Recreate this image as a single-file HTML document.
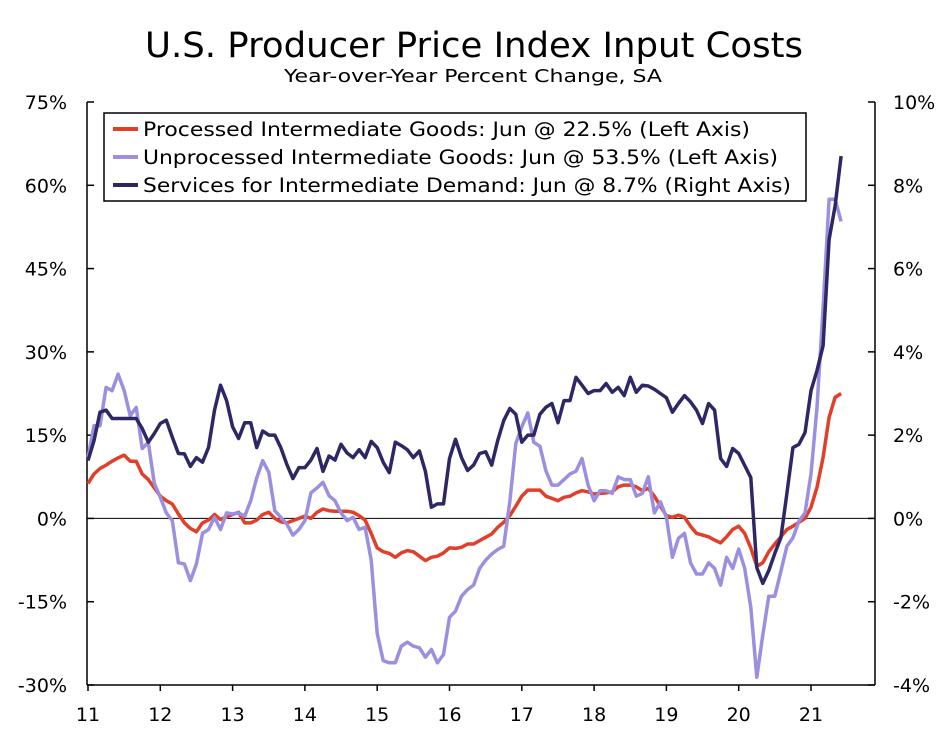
<!DOCTYPE html>
<html><head><meta charset="utf-8"><style>
body{margin:0;background:#fff;}
svg text{font-family:"DejaVu Sans","Liberation Sans",sans-serif;fill:#000;}
</style></head><body>
<svg id="chart" width="947" height="727" viewBox="0 0 947 727" xmlns="http://www.w3.org/2000/svg">
<text x="145" y="57" font-size="35" textLength="658" lengthAdjust="spacingAndGlyphs">U.S. Producer Price Index Input Costs</text>
<text x="284" y="82" font-size="18" textLength="378" lengthAdjust="spacingAndGlyphs">Year-over-Year Percent Change, SA</text>
<g id="axes"></g>
<g id="series"></g>
<g>
<rect x="104" y="113" width="702" height="88" fill="#fff" stroke="#000" stroke-width="1.5"/>
<line x1="113" y1="129" x2="138" y2="129" stroke="#e0402a" stroke-width="4"/>
<text x="143" y="136" font-size="19.5" textLength="607" lengthAdjust="spacingAndGlyphs">Processed Intermediate Goods: Jun @ 22.5% (Left Axis)</text>
<line x1="113" y1="157" x2="138" y2="157" stroke="#9b8fe0" stroke-width="4"/>
<text x="143" y="164" font-size="19.5" textLength="635" lengthAdjust="spacingAndGlyphs">Unprocessed Intermediate Goods: Jun @ 53.5% (Left Axis)</text>
<line x1="113" y1="185" x2="138" y2="185" stroke="#2e2766" stroke-width="4"/>
<text x="143" y="192" font-size="19.5" textLength="648" lengthAdjust="spacingAndGlyphs">Services for Intermediate Demand: Jun @ 8.7% (Right Axis)</text>
</g>
</svg>
<script>
const xYears = ["11","12","13","14","15","16","17","18","19","20","21"];
const leftTicks = [75,60,45,30,15,0,-15,-30];
const rightTicks = [10,8,6,4,2,0,-2,-4];
const processed = [6.3,8,9,9.6,10.3,10.9,11.4,10.3,10.3,8,7,5.5,
4,3.2,2.6,0.8,-0.8,-1.8,-2.4,-0.8,-0.3,0.7,-0.2,0.3,
0.7,1.1,-0.8,-0.8,-0.3,0.7,1.1,0,-0.6,-0.8,-0.4,0,
0.4,0,1.1,1.7,1.4,1.3,1.3,1.3,1.1,0.5,-0.3,-2.7,
-5.3,-6,-6.3,-7,-6.2,-5.8,-6,-6.8,-7.6,-7,-6.8,-6.2,
-5.3,-5.4,-5.2,-4.6,-4.6,-4,-3.4,-2.8,-1.6,-0.7,0.5,2.2,
4,5.1,5.1,5.1,4,3.6,3.2,3.8,4,4.6,5,4.8,
4.4,4.5,4.6,4.8,5.7,6,6,5.7,5,5.4,4,2.2,
0.5,0.2,0.6,0.2,-1.4,-2.7,-3,-3.3,-3.9,-4.4,-3.3,-2,
-1.4,-2.7,-5.3,-8.6,-8,-6,-4.6,-3.3,-2,-1.4,-0.7,0,
2,5.6,11,18.2,21.8,22.5];
const unprocessed = [11,16.7,16.7,23.6,23,26,23,18.5,20,12.6,13.7,6.3,
3.8,1,-0.4,-8,-8.2,-11.2,-8.2,-2.7,-2,0.2,-2,1,
0.8,1,0.4,3.2,7.3,10.4,8.3,1.4,0.2,-1,-3,-2,
-0.4,4.6,5.5,6.5,4.1,3.2,1,-0.4,0.2,-2,-1.6,-7.5,
-20.7,-25.6,-26,-26,-23,-22.3,-23,-23.3,-25,-23.6,-26,-24.5,
-17.8,-16.7,-14,-12.8,-12,-9,-7.5,-6.4,-5.6,-5,3,13.5,
16.5,19,13.7,13,8.6,6,6,7,8,8.5,10.8,6,
3.2,5,5,4.5,7.5,7,7,4,4.5,7.5,1,3,
0.2,-7,-3.6,-2.7,-8,-10,-10,-8,-9,-12,-7,-9,
-5.5,-9,-16,-28.6,-21,-14,-14,-9.5,-5,-3.5,-0.5,1,
8,20,38,57.5,57.5,53.5];
const services = [1.39,1.87,2.55,2.6,2.4,2.4,2.4,2.4,2.4,2.16,1.83,2.04,
2.28,2.36,1.95,1.56,1.55,1.25,1.46,1.35,1.7,2.6,3.2,2.83,
2.2,1.92,2.3,2.3,1.7,2.1,2,2,1.7,1.3,0.96,1.22,
1.22,1.4,1.68,1.13,1.5,1.4,1.78,1.57,1.46,1.65,1.46,1.85,
1.7,1.35,1.1,1.83,1.75,1.65,1.46,1.62,1.13,0.27,0.35,0.35,
1.44,1.9,1.46,1.15,1.28,1.56,1.6,1.28,1.87,2.35,2.64,2.5,
1.83,2,2,2.5,2.67,2.76,2.3,2.83,2.83,3.39,3.2,3,
3.07,3.07,3.24,3.03,3.15,2.95,3.39,3.03,3.2,3.18,3.1,3,
2.9,2.55,2.76,2.95,2.8,2.6,2.28,2.76,2.6,1.44,1.25,1.68,
1.56,1.27,0.98,-1.18,-1.56,-1.25,-0.84,-0.46,0.6,1.7,1.78,2.06,
3.07,3.55,4.15,6.7,7.5,8.7];

const NS="http://www.w3.org/2000/svg";
const X0=88, YW=72.3, PL=87, PR=875, PT=102, PB=685;
function xm(i){return X0+i*YW/12;}
function yl(v){return PT+(75-v)/105*(PB-PT);}
function yr(v){return PT+(10-v)/14*(PB-PT);}
function mk(tag,attrs,parent){const e=document.createElementNS(NS,tag);for(const k in attrs)e.setAttribute(k,attrs[k]);parent.appendChild(e);return e;}
const ax=document.getElementById('axes');
let l=mk('line',{x1:PL,y1:PT,x2:PL,y2:PB,stroke:'#000','stroke-width':1.5},ax);


l=mk('line',{x1:PR,y1:PT,x2:PR,y2:PB,stroke:'#000','stroke-width':1.5},ax);


l=mk('line',{x1:PL,y1:PB,x2:PR,y2:PB,stroke:'#000','stroke-width':1.5},ax);


l=mk('line',{x1:PL,y1:yl(0),x2:PR,y2:yl(0),stroke:'#000','stroke-width':1},ax);


leftTicks.forEach(v=>{const y=yl(v);
 const t=mk('line',{x1:PL,y1:y,x2:PL+7,y2:y,stroke:'#000','stroke-width':1.5},ax);
 
 
 const tx=mk('text',{x:67,y:y+7,'font-size':19,'text-anchor':'end'},ax);tx.textContent=v+'%';
 
 
});
rightTicks.forEach(v=>{const y=yr(v);
 const t=mk('line',{x1:PR-7,y1:y,x2:PR,y2:y,stroke:'#000','stroke-width':1.5},ax);
 
 
 const tx=mk('text',{x:893,y:y+7,'font-size':19},ax);tx.textContent=v+'%';
 
 
});
xYears.forEach((yv,i)=>{const x=xm(i*12);
 const t=mk('line',{x1:x,y1:PB,x2:x,y2:PB+6,stroke:'#000','stroke-width':1.5},ax);
 
 
 const tx=mk('text',{x:x,y:PB+36,'font-size':19,'text-anchor':'middle'},ax);tx.textContent=yv;
 
 
});
const sg=document.getElementById('series');
function line(arr,yf,color,name){
 const d=arr.map((v,i)=>(i?'L':'M')+xm(i).toFixed(1)+','+yf(v).toFixed(1)).join('');
 const p=mk('path',{d:d,fill:'none',stroke:color,'stroke-width':3.5,'stroke-linejoin':'round'},sg);
 
 
}
line(processed,yl,'#e0402a','processed-goods-line');
line(unprocessed,yl,'#9b8fe0','unprocessed-goods-line');
line(services,yr,'#2e2766','services-line');
</script>
</body></html>
